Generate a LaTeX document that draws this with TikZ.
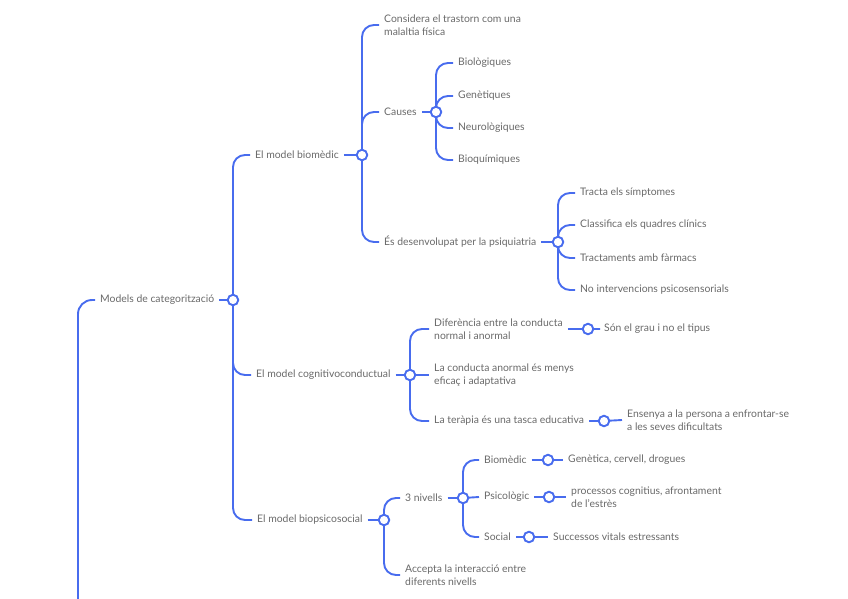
\documentclass[tikz,border=0pt]{standalone}
\usepackage{fontspec}
\setmainfont{Lato}
\pgfdeclarelayer{bg}
\pgfsetlayers{bg,main}
\definecolor{ln}{RGB}{72,108,238}
\definecolor{tx}{RGB}{105,105,105}
\begin{document}
\begin{tikzpicture}[x=1pt,y=-1pt,
 lbl/.style={anchor=west, inner xsep=5pt, inner ysep=1pt, text=tx, font=\fontsize{10.4}{13}\selectfont, align=left},
 knob/.style={circle, draw=ln, line width=1.9pt, fill=white, minimum size=10.5pt, inner sep=0pt},
 wire/.style={draw=ln, line width=1.9pt, rounded corners=12pt}]
\useasboundingbox (0,0) rectangle (848,599);
% text nodes
\node[lbl] (root) at (95,300) {Models de categorització};
\node[lbl] (bio) at (250,155) {El model biomèdic};
\node[lbl] (cog) at (251,375) {El model cognitivoconductual};
\node[lbl] (bps) at (252,520) {El model biopsicosocial};
\node[lbl] (c1) at (379,25) {Considera el trastorn com una\\malaltia física};
\node[lbl] (causes) at (379,112) {Causes};
\node[lbl] (esd) at (379,242) {És desenvolupat per la psiquiatria};
\node[lbl] (b1) at (453,63) {Biològiques};
\node[lbl] (b2) at (453,96) {Genètiques};
\node[lbl] (b3) at (453,128) {Neurològiques};
\node[lbl] (b4) at (453,160) {Bioquímiques};
\node[lbl] (t1) at (575,193) {Tracta els símptomes};
\node[lbl] (t2) at (575,225) {Classifica els quadres clínics};
\node[lbl] (t3) at (575,258) {Tractaments amb fàrmacs};
\node[lbl] (t4) at (575,290) {No intervencions psicosensorials};
\node[lbl] (d1) at (429,329) {Diferència entre la conducta\\normal i anormal};
\node[lbl] (d2) at (429,375) {La conducta anormal és menys\\eficaç i adaptativa};
\node[lbl] (d3) at (429,421) {La teràpia és una tasca educativa};
\node[lbl] (s1) at (599,329) {Són el grau i no el tipus};
\node[lbl] (e1) at (622,420) {Ensenya a la persona a enfrontar-se\\a les seves dificultats};
\node[lbl] (n3) at (400,498) {3 nivells};
\node[lbl] (acc) at (400,575) {Accepta la interacció entre\\diferents nivells};
\node[lbl] (m1) at (479,460) {Biomèdic};
\node[lbl] (m2) at (479,497) {Psicològic};
\node[lbl] (m3) at (479,537) {Social};
\node[lbl] (g1) at (563,460) {Genètica, cervell, drogues};
\node[lbl] (p1) at (566,497) {processos cognitius, afrontament\\de l'estrès};
\node[lbl] (so1) at (548,537) {Successos vitals estressants};
% knobs
\node[knob] (kr) at (233,300) {};
\node[knob] (kbio) at (362,155) {};
\node[knob] (kcog) at (410,375) {};
\node[knob] (kbps) at (384,520) {};
\node[knob] (kca) at (436,112) {};
\node[knob] (kesd) at (558,242) {};
\node[knob] (kd1) at (588,329) {};
\node[knob] (kd3) at (604,421) {};
\node[knob] (kn3) at (463,498) {};
\node[knob] (km1) at (548,460) {};
\node[knob] (km2) at (549,497) {};
\node[knob] (km3) at (529,537) {};
\coordinate (up) at (78,599);
% connectors
\begin{pgfonlayer}{bg}
\draw[wire, rounded corners=14pt] (up) |- (root.west);
\draw[wire] (root.east) -- (kr.center);
\foreach \c in {bio,cog,bps} \draw[wire] (kr.center) |- (\c.west);
\draw[wire] (bio.east) -- (kbio.center);
\foreach \c in {c1,causes,esd} \draw[wire] (kbio.center) |- (\c.west);
\draw[wire] (causes.east) -- (kca.center);
\foreach \c in {b1,b2,b3,b4} \draw[wire] (kca.center) |- (\c.west);
\draw[wire] (esd.east) -- (kesd.center);
\foreach \c in {t1,t2,t3,t4} \draw[wire] (kesd.center) |- (\c.west);
\draw[wire] (cog.east) -- (kcog.center);
\foreach \c in {d1,d3} \draw[wire] (kcog.center) |- (\c.west);
\draw[wire] (kcog.center) -- (d2.west);
\draw[wire] (d1.east) -- (kd1.center) -- (s1.west);
\draw[wire] (d3.east) -- (kd3.center) -- (e1.west);
\draw[wire] (bps.east) -- (kbps.center);
\foreach \c in {n3,acc} \draw[wire] (kbps.center) |- (\c.west);
\draw[wire] (n3.east) -- (kn3.center);
\foreach \c in {m1,m3} \draw[wire] (kn3.center) |- (\c.west);
\draw[wire] (kn3.center) -- (m2.west);
\draw[wire] (m1.east) -- (km1.center) -- (g1.west);
\draw[wire] (m2.east) -- (km2.center) -- (p1.west);
\draw[wire] (m3.east) -- (km3.center) -- (so1.west);
\end{pgfonlayer}
\end{tikzpicture}
\end{document}
